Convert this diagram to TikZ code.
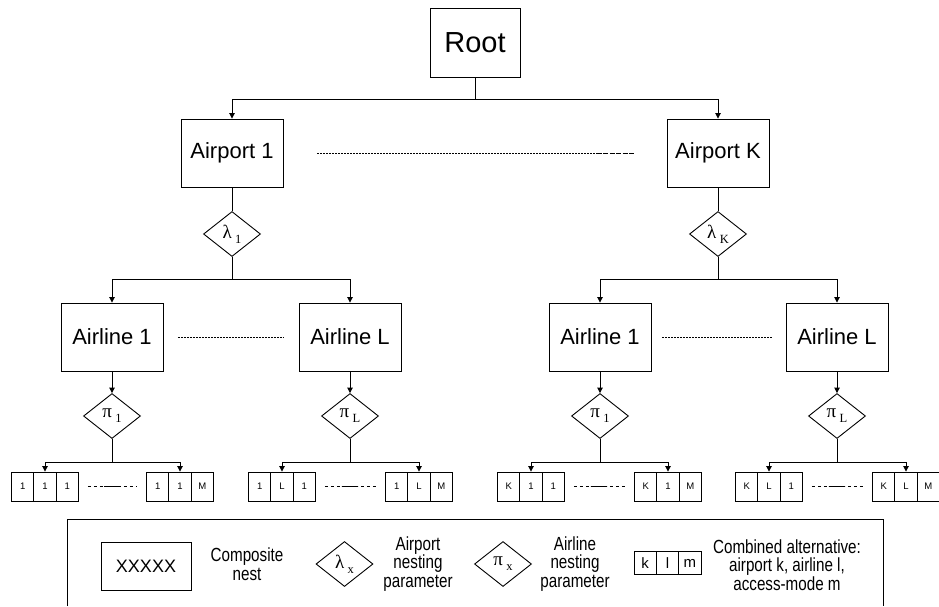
\documentclass[tikz,border=0pt]{standalone}
\usepackage{fontspec}
\setmainfont{Liberation Sans}
\newfontfamily\greekfont{Liberation Serif}
\newfontfamily\narrowfont{Liberation Sans}[FakeStretch=0.8]
\usetikzlibrary{shapes.geometric,arrows.meta,calc}
\newcommand\fs[1]{\fontsize{#1}{#1}\selectfont}
\newcommand\gsym[2]{{\greekfont\fs{19}#1\hspace{3.5pt}\raisebox{-5pt}{\fs{12.5}#2}}}
\newcommand\mktriple[5]{%
  \node[cell] (#1a) at ({#2-22.3},486.5) {#3};
  \node[cell] (#1b) at (#2,486.5) {#4};
  \node[cell] (#1c) at ({#2+22.3},486.5) {#5};}
\newcommand\rowdots[2]{%
  \draw[rdots] ([xshift=9pt]#1.east) -- ([xshift=-9pt]#2.west);
  \draw ($([xshift=9pt]#1.east)!0.33!([xshift=-9pt]#2.west)$) -- ($([xshift=9pt]#1.east)!0.65!([xshift=-9pt]#2.west)$);}
\begin{document}
\begin{tikzpicture}[x=1pt,y=-1pt,line width=0.9pt,
  box/.style={draw,inner sep=0pt,minimum width=102pt,minimum height=68pt,font=\fs{22}},
  dia/.style={draw,diamond,aspect=1.27,inner sep=0pt,minimum width=57pt,minimum height=45pt},
  cell/.style={draw,inner sep=0pt,minimum width=22.3pt,minimum height=29pt,font=\fs{9.5}},
  lcell/.style={draw,inner sep=0pt,minimum width=22.3pt,minimum height=23pt,font=\fs{15}},
  arr/.style={-{Triangle[length=5.5pt,width=5.5pt]}},
  dots/.style={dash pattern=on 1.6pt off 1.4pt},
  rdots/.style={dash pattern=on 3.3pt off 2.7pt},
  lbl/.style={align=center,font=\narrowfont\fontsize{19}{18.5}\selectfont}]
\useasboundingbox (0,0) rectangle (939,606);

% root
\node[draw,inner sep=0pt,minimum width=90pt,minimum height=69pt,font=\fs{29}] (root) at (475,42.5) {Root};
% airports
\node[box] (ap1) at (232,153) {Airport 1};
\node[box] (apK) at (718,153) {Airport K};
\draw[dots] ([xshift=34pt]ap1.east) -- ([xshift=-70pt]apK.west);
\draw[dash pattern=on 5pt off 1.5pt] ([xshift=-70pt]apK.west) -- ([xshift=-33pt]apK.west);
% lambda
\node[dia] (l1) at (232,234) {\gsym{λ}{1}};
\node[dia] (lK) at (718,234) {\gsym{λ}{K}};
% airlines
\node[box] (a11) at (112,337) {Airline 1};
\node[box] (a1L) at (350,337) {Airline L};
\node[box] (aK1) at (600,337) {Airline 1};
\node[box] (aKL) at (837,337) {Airline L};
\draw[dots] ([xshift=14.5pt]a11.east) -- ([xshift=-14.5pt]a1L.west);
\draw[dots] ([xshift=11pt]aK1.east) -- ([xshift=-13pt]aKL.west);
% pi
\node[dia] (p11) at (112,416) {\gsym{π}{1}};
\node[dia] (p1L) at (350,416) {\gsym{π}{L}};
\node[dia] (pK1) at (600,416) {\gsym{π}{1}};
\node[dia] (pKL) at (837,416) {\gsym{π}{L}};
% alternatives
\mktriple{g1L}{45}{1}{1}{1}
\mktriple{g1R}{180}{1}{1}{M}
\mktriple{g2L}{282}{1}{L}{1}
\mktriple{g2R}{419}{1}{L}{M}
\mktriple{g3L}{531}{K}{1}{1}
\mktriple{g3R}{668}{K}{1}{M}
\mktriple{g4L}{769}{K}{L}{1}
\mktriple{g4R}{906}{K}{L}{M}
\rowdots{g1Lc}{g1Ra}
\rowdots{g2Lc}{g2Ra}
\rowdots{g3Lc}{g3Ra}
\rowdots{g4Lc}{g4Ra}

% connectors
\coordinate (j0) at (475,99);
\draw (root.south) -- (j0);
\draw[arr] (j0) -| (ap1.north);
\draw[arr] (j0) -| (apK.north);
\draw (ap1) -- (l1);
\draw (apK) -- (lK);
\coordinate (j1) at (232,279);
\coordinate (j2) at (718,279);
\draw (l1.south) -- (j1);
\draw (lK.south) -- (j2);
\draw[arr] (j1) -| (a11.north);
\draw[arr] (j1) -| (a1L.north);
\draw[arr] (j2) -| (aK1.north);
\draw[arr] (j2) -| (aKL.north);
\draw[arr] (a11) -- (p11);
\draw[arr] (a1L) -- (p1L);
\draw[arr] (aK1) -- (pK1);
\draw[arr] (aKL) -- (pKL);
\coordinate (k1) at (112,462);
\coordinate (k2) at (350,462);
\coordinate (k3) at (600,462);
\coordinate (k4) at (837,462);
\draw (p11.south) -- (k1);
\draw (p1L.south) -- (k2);
\draw (pK1.south) -- (k3);
\draw (pKL.south) -- (k4);
\draw[arr] (k1) -| (g1Lb.north);
\draw[arr] (k1) -| (g1Rb.north);
\draw[arr] (k2) -| (g2Lb.north);
\draw[arr] (k2) -| (g2Rb.north);
\draw[arr] (k3) -| (g3Lb.north);
\draw[arr] (k3) -| (g3Rb.north);
\draw[arr] (k4) -| (g4Lb.north);
\draw[arr] (k4) -| (g4Rb.north);

% legend
\draw (67,606) -- (67,519) -- (883,519) -- (883,606);
\node[draw,inner sep=0pt,minimum width=90pt,minimum height=48pt,font=\fs{18}] (lx) at (146,566) {XXXXX};
\node[lbl] (lxt) at (247,564) {Composite\\nest};
\node[dia] (ll) at (344.5,564) {\gsym{λ}{x}};
\node[lbl] (llt) at (418,564) {Airport\\nesting\\parameter};
\node[dia] (lp) at (503,564) {\gsym{π}{x}};
\node[lbl] (lpt) at (575,564) {Airline\\nesting\\parameter};
\node[lcell] (lk) at (645.2,563) {k};
\node[lcell] (ll2) at (667.5,563) {l};
\node[lcell] (lm) at (689.8,563) {m};
\node[lbl] (lct) at (787,565) {Combined alternative:\\airport k, airline l,\\access-mode m};
\end{tikzpicture}
\end{document}
